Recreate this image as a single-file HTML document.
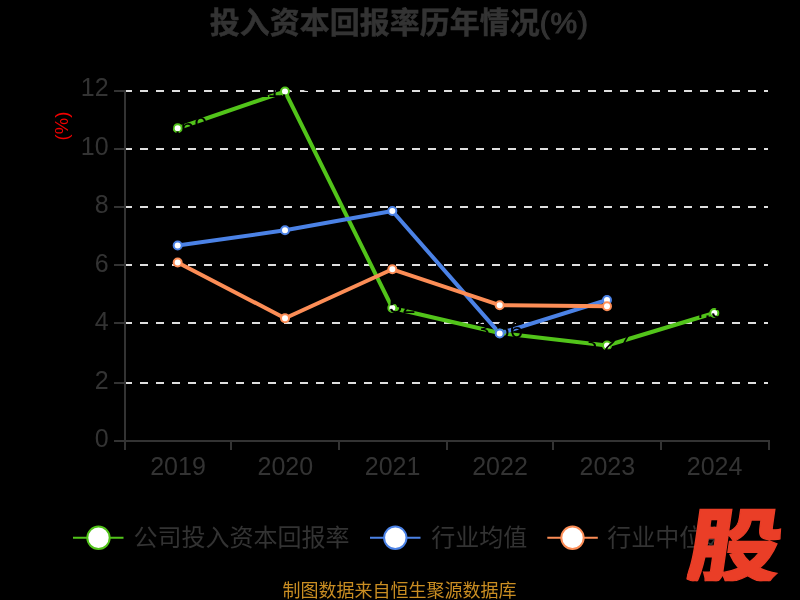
<!DOCTYPE html>
<html lang="zh-CN">
<head>
<meta charset="utf-8">
<title>投入资本回报率历年情况(%)</title>
<style>
  html, body { margin: 0; padding: 0; background: #000; }
  body { width: 800px; height: 600px; overflow: hidden; position: relative; }
  svg { display: block; position: absolute; left: 0; top: 0; will-change: transform; }
  text { font-family: "Liberation Sans", "Noto Sans CJK SC", sans-serif; }
  .title { font-size: 30px; font-weight: bold; fill: #333333; stroke: #333333; stroke-width: 0.5px; }
  .axis { font-size: 25px; fill: #333333; }
  .legend { font-size: 24px; fill: #333333; }
  .lab { font-size: 24px; fill: #000000; }
  .src { font-size: 18px; fill: #c98d22; }
  .unit { font-size: 18.5px; fill: #f00000; }
  .logo { font-family: "Liberation Sans", "Noto Sans CJK SC", sans-serif; font-weight: 900; font-size: 80px; fill: #ea3e27; stroke: #ea3e27; stroke-width: 1.2px; stroke-linejoin: miter; }
</style>
</head>
<body>
<svg width="800" height="600" viewBox="0 0 800 600">
  <rect x="0" y="0" width="800" height="600" fill="#000000"/>

  <!-- title -->
  <text class="title" x="399.3" y="33" text-anchor="middle">投入资本回报率历年情况<tspan font-weight="normal" stroke-width="1.1" letter-spacing="0.8">(%)</tspan></text>

  <!-- y axis unit -->
  <text class="unit" transform="translate(67.8,126) rotate(-90)" text-anchor="middle">(%)</text>

  <!-- split lines -->
  <g stroke="#dedede" stroke-width="2" stroke-dasharray="8 8" fill="none">
    <line x1="124" y1="91" x2="768" y2="91"/>
    <line x1="124" y1="149" x2="768" y2="149"/>
    <line x1="124" y1="207" x2="768" y2="207"/>
    <line x1="124" y1="265" x2="768" y2="265"/>
    <line x1="124" y1="323" x2="768" y2="323"/>
    <line x1="124" y1="383" x2="768" y2="383"/>
  </g>

  <!-- axes -->
  <g stroke="#333333" stroke-width="2" fill="none">
    <line x1="125" y1="90" x2="125" y2="442"/>
    <line x1="124" y1="441" x2="770" y2="441"/>
    <!-- y ticks -->
    <line x1="114" y1="91" x2="124" y2="91"/>
    <line x1="114" y1="149" x2="124" y2="149"/>
    <line x1="114" y1="207" x2="124" y2="207"/>
    <line x1="114" y1="265" x2="124" y2="265"/>
    <line x1="114" y1="323" x2="124" y2="323"/>
    <line x1="114" y1="383" x2="124" y2="383"/>
    <line x1="114" y1="441" x2="124" y2="441"/>
    <!-- x ticks -->
    <line x1="125" y1="440" x2="125" y2="450"/>
    <line x1="231" y1="440" x2="231" y2="450"/>
    <line x1="339" y1="440" x2="339" y2="450"/>
    <line x1="447" y1="440" x2="447" y2="450"/>
    <line x1="553" y1="440" x2="553" y2="450"/>
    <line x1="661" y1="440" x2="661" y2="450"/>
    <line x1="769" y1="440" x2="769" y2="450"/>
  </g>

  <!-- y labels -->
  <g class="axis" text-anchor="end">
    <text x="108.6" y="96">12</text>
    <text x="108.6" y="154.5">10</text>
    <text x="108.6" y="213">8</text>
    <text x="108.6" y="271.5">6</text>
    <text x="108.6" y="330">4</text>
    <text x="108.6" y="388.5">2</text>
    <text x="108.6" y="447">0</text>
  </g>

  <!-- x labels -->
  <g class="axis" text-anchor="middle">
    <text x="178" y="474.5">2019</text>
    <text x="285.3" y="474.5">2020</text>
    <text x="392.6" y="474.5">2021</text>
    <text x="500" y="474.5">2022</text>
    <text x="607.3" y="474.5">2023</text>
    <text x="714.6" y="474.5">2024</text>
  </g>

  <!-- series lines -->
  <g fill="none" stroke-width="4" stroke-linejoin="bevel">
    <polyline stroke="#52c41a" points="177.67,128.25 285,91.5 392.33,308 499.67,333 607,345.5 714.33,313"/>
    <polyline stroke="#4b82e6" points="177.67,245.5 285,230.3 392.33,211 499.67,333.4 607,300"/>
    <polyline stroke="#fc8d56" points="177.67,262.5 285,318.2 392.33,269.3 499.67,305.2 607,306.2"/>
  </g>

  <!-- company series symbols + value labels (black, only visible where they overlap the lines) -->
  <g fill="#ffffff" stroke="#52c41a" stroke-width="2">
    <circle cx="177.67" cy="128.25" r="4"/>
    <circle cx="285" cy="91.5" r="4"/>
    <circle cx="392.33" cy="308" r="4"/>
    <circle cx="499.67" cy="333" r="4"/>
    <circle cx="607" cy="345.5" r="4"/>
    <circle cx="714.33" cy="313" r="4"/>
  </g>
  <g class="lab" text-anchor="middle">
    <text x="177.67" y="133.5">10.69</text>
    <text x="285" y="96.5">11.99</text>
    <text x="392.33" y="313">4.52</text>
    <text x="499.67" y="338">3.66</text>
    <text x="607" y="350.5">3.27</text>
    <text x="714.33" y="318">4.39</text>
  </g>

  <!-- industry mean symbols -->
  <g fill="#ffffff" stroke="#4b82e6" stroke-width="2">
    <circle cx="177.67" cy="245.5" r="4"/>
    <circle cx="285" cy="230.3" r="4"/>
    <circle cx="392.33" cy="211" r="4"/>
    <circle cx="499.67" cy="333.4" r="4"/>
    <circle cx="607" cy="300" r="4"/>
  </g>

  <!-- industry median symbols -->
  <g fill="#ffffff" stroke="#fc8d56" stroke-width="2">
    <circle cx="177.67" cy="262.5" r="4"/>
    <circle cx="285" cy="318.2" r="4"/>
    <circle cx="392.33" cy="269.3" r="4"/>
    <circle cx="499.67" cy="305.2" r="4"/>
    <circle cx="607" cy="306.2" r="4"/>
  </g>

  <!-- legend -->
  <g>
    <line x1="73" y1="537.8" x2="123.5" y2="537.8" stroke="#52c41a" stroke-width="2"/>
    <circle cx="98.5" cy="537.8" r="11.2" fill="#ffffff" stroke="#52c41a" stroke-width="2"/>
    <text class="legend" x="133.4" y="545.6">公司投入资本回报率</text>

    <line x1="370" y1="537.8" x2="420.5" y2="537.8" stroke="#4b82e6" stroke-width="2"/>
    <circle cx="395.3" cy="537.8" r="11.2" fill="#ffffff" stroke="#4b82e6" stroke-width="2"/>
    <text class="legend" x="431.3" y="545.6">行业均值</text>

    <line x1="547.3" y1="537.8" x2="597.8" y2="537.8" stroke="#fc8d56" stroke-width="2"/>
    <circle cx="572.5" cy="537.8" r="11.2" fill="#ffffff" stroke="#fc8d56" stroke-width="2"/>
    <text class="legend" x="607.3" y="545.6">行业中位数</text>
  </g>

  <!-- source -->
  <text class="src" x="399.6" y="596.7" text-anchor="middle">制图数据来自恒生聚源数据库</text>

  <!-- logo -->
  <clipPath id="logoclip"><polygon points="696.6,508.4 782,508.4 782,581.2 686.2,581.2"/></clipPath>
  <g clip-path="url(#logoclip)"><text class="logo" transform="translate(684.1,576.2) skewX(-8.17) scale(1.175,1.02)" x="0" y="0">股</text></g>
</svg>
</body>
</html>
